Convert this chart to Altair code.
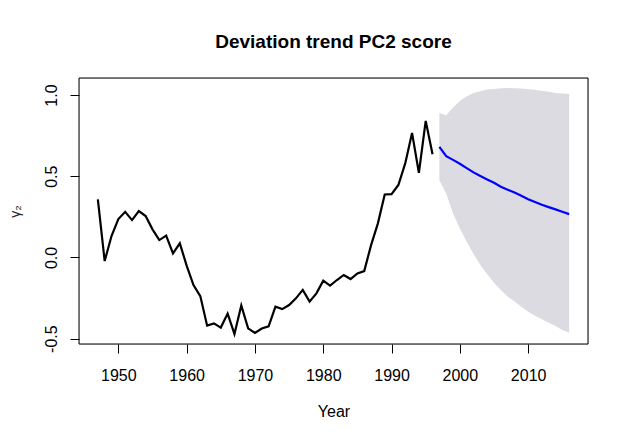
import altair as alt
import pandas as pd

# ---- data ----
hist_years = [1947, 1948, 1949, 1950, 1951, 1952, 1953, 1954, 1955, 1956,
              1957, 1958, 1959, 1960, 1961, 1962, 1963, 1964, 1965, 1966,
              1967, 1968, 1969, 1970, 1971, 1972, 1973, 1974, 1975, 1976,
              1977, 1978, 1979, 1980, 1981, 1982, 1983, 1984, 1985, 1986,
              1987, 1988, 1989, 1990, 1991, 1992, 1993, 1994, 1995, 1996]
hist_values = [0.357, -0.022, 0.132, 0.236, 0.281, 0.230, 0.286, 0.255, 0.173, 0.107,
               0.134, 0.025, 0.087, -0.050, -0.170, -0.238, -0.420, -0.406, -0.432, -0.346,
               -0.471, -0.296, -0.437, -0.465, -0.438, -0.424, -0.303, -0.318, -0.293, -0.252,
               -0.200, -0.272, -0.221, -0.143, -0.174, -0.139, -0.108, -0.133, -0.098, -0.084,
               0.076, 0.210, 0.388, 0.390, 0.446, 0.579, 0.767, 0.521, 0.841, 0.636]

fc_years = [1997, 1998, 1999, 2000, 2001, 2002, 2003, 2004, 2005, 2006,
            2007, 2008, 2009, 2010, 2011, 2012, 2013, 2014, 2015, 2016]
fc_mean = [0.681, 0.624, 0.601, 0.577, 0.550, 0.524, 0.501, 0.480, 0.460, 0.435,
           0.417, 0.400, 0.380, 0.359, 0.341, 0.324, 0.310, 0.296, 0.281, 0.267]
fc_upper = [0.890, 0.876, 0.924, 0.964, 0.993, 1.013, 1.024, 1.034, 1.038, 1.042,
            1.044, 1.042, 1.040, 1.036, 1.032, 1.026, 1.020, 1.013, 1.010, 1.006]
fc_lower = [0.476, 0.394, 0.271, 0.179, 0.097, 0.021, -0.047, -0.104, -0.156, -0.200,
            -0.242, -0.272, -0.303, -0.334, -0.359, -0.381, -0.402, -0.422, -0.447, -0.463]

x_ticks = [1950, 1960, 1970, 1980, 1990, 2000, 2010]
y_ticks = [-0.5, 0.0, 0.5, 1.0]

hist = pd.DataFrame({"Year": hist_years, "score": hist_values})
fc = pd.DataFrame({"Year": fc_years, "mean": fc_mean,
                   "lower": fc_lower, "upper": fc_upper})

FONT = "Liberation Sans"
W, H = 509, 266

x_scale = alt.Scale(domain=[1944.24, 2018.76], nice=False, zero=False)
y_scale = alt.Scale(domain=[-0.533, 1.105], nice=False, zero=False)

x_axis = alt.Axis(
    title="Year", values=x_ticks, format="d", grid=False, domain=False,
    ticks=True, tickSize=9, tickColor="black", tickWidth=1,
    labelFont=FONT, labelFontSize=16, labelColor="black", labelPadding=14,
    labelFlush=False, labelOverlap=False,
    titleFont=FONT, titleFontSize=16, titleFontWeight="normal",
    titleColor="black", titlePadding=20,
)
y_axis = alt.Axis(
    title="γ₂", values=y_ticks,
    labelExpr="datum.value < 0 ? '-' + format(-datum.value, '.1f') : format(datum.value, '.1f')",
    grid=False, domain=False,
    ticks=True, tickSize=9, tickColor="black", tickWidth=1,
    labelFont=FONT, labelFontSize=16, labelColor="black", labelPadding=11,
    labelAngle=270, labelAlign="center", labelBaseline="bottom",
    labelFlush=False, labelOverlap=False,
    titleFont=FONT, titleFontSize=14, titleFontWeight="normal",
    titleColor="#222222", titlePadding=21,
)

band = alt.Chart(fc).mark_area(color="#DBDBE1", opacity=1, interpolate="linear").encode(
    x=alt.X("Year:Q", scale=x_scale, axis=x_axis),
    y=alt.Y("lower:Q", scale=y_scale, axis=y_axis),
    y2="upper:Q",
)

hist_line = alt.Chart(hist).mark_line(color="black", strokeWidth=2.2).encode(
    x=alt.X("Year:Q", scale=x_scale),
    y=alt.Y("score:Q", scale=y_scale),
)

fc_line = alt.Chart(fc).mark_line(color="#0000FF", strokeWidth=2.2).encode(
    x=alt.X("Year:Q", scale=x_scale),
    y=alt.Y("mean:Q", scale=y_scale),
)

frame = alt.Chart(pd.DataFrame({"k": [0]})).mark_rect(
    fillOpacity=0, stroke="black", strokeWidth=1
).encode(
    x=alt.value(0), x2=alt.value(W), y=alt.value(0), y2=alt.value(H)
)

chart = alt.layer(band, hist_line, fc_line, frame).properties(
    width=W, height=H,
    title=alt.TitleParams(
        "Deviation trend PC2 score", font=FONT, fontSize=19, fontWeight="bold",
        color="black", anchor="middle", frame="group", offset=11,
        baseline="alphabetic",
    ),
    padding={"left": 71, "top": 70, "right": 33, "bottom": 80},
    autosize=alt.AutoSizeParams(type="none"),
).configure_view(stroke="black", strokeWidth=1).configure(background="white")

chart.save("out.html", embed_options={"renderer": "svg", "actions": False})
